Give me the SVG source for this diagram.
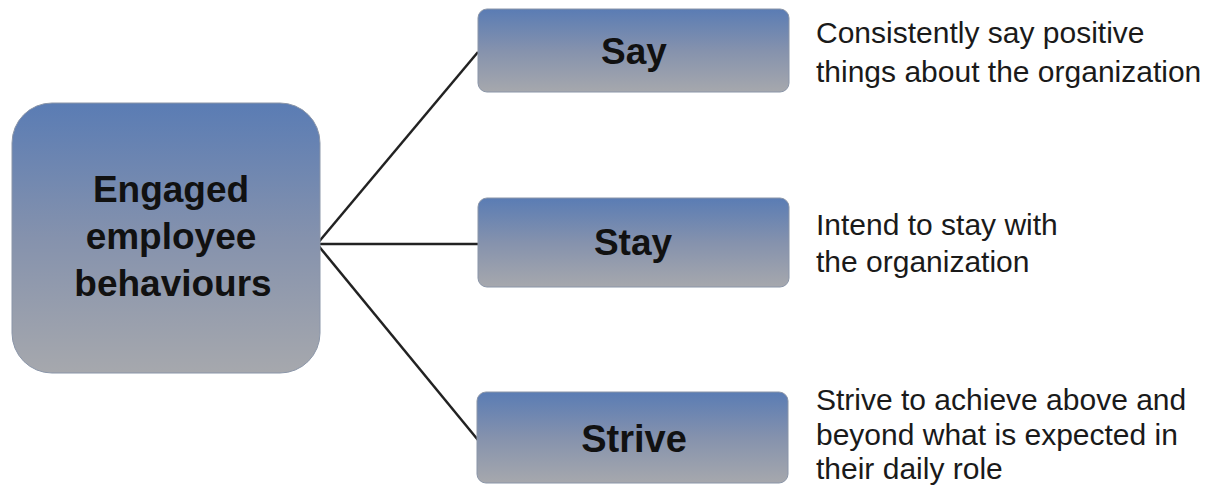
<svg xmlns="http://www.w3.org/2000/svg" width="1214" height="489" viewBox="0 0 1214 489">
<defs>
<linearGradient id="g" x1="0" y1="0" x2="0" y2="1">
<stop offset="0" stop-color="#5a7cb4"/>
<stop offset="0.5" stop-color="#8592ad"/>
<stop offset="1" stop-color="#a6a8ad"/>
</linearGradient>
<style>
.box{fill:url(#g);stroke:#8a95a8;stroke-width:1}
.lbl{font-family:"Liberation Sans",Arial,sans-serif;font-weight:bold;fill:#111;text-anchor:middle}
.desc{font-family:"Liberation Sans",Arial,sans-serif;font-size:30px;fill:#1a1a1a}
.conn{stroke:#222;stroke-width:2.5;fill:none}
</style>
</defs>
<rect width="1214" height="489" fill="#fff"/>
<g id="connectors">
<line class="conn" x1="317" y1="244" x2="478" y2="52"/>
<line class="conn" x1="317" y1="244" x2="478" y2="244"/>
<line class="conn" x1="317" y1="244" x2="478" y2="440"/>
</g>
<g id="engaged">
<rect class="box" x="12" y="103" width="308" height="270" rx="40" ry="40"/>
<text class="lbl" font-size="37" x="171" y="202">Engaged</text>
<text class="lbl" font-size="37" x="171" y="249">employee</text>
<text class="lbl" font-size="37" x="173" y="296">behaviours</text>
</g>
<g id="say">
<rect class="box" x="478" y="9" width="311" height="83" rx="9" ry="9"/>
<text class="lbl" font-size="37" x="634" y="64">Say</text>
<text class="desc" x="816" y="43">Consistently say positive</text>
<text class="desc" x="816" y="82">things about the organization</text>
</g>
<g id="stay">
<rect class="box" x="478" y="198" width="311" height="89" rx="9" ry="9"/>
<text class="lbl" font-size="37" x="633" y="255">Stay</text>
<text class="desc" x="816" y="235">Intend to stay with</text>
<text class="desc" x="816" y="272">the organization</text>
</g>
<g id="strive">
<rect class="box" x="477" y="392" width="311" height="91" rx="9" ry="9"/>
<text class="lbl" font-size="38" x="634" y="452">Strive</text>
<text class="desc" x="816" y="410">Strive to achieve above and</text>
<text class="desc" x="816" y="445">beyond what is expected in</text>
<text class="desc" x="816" y="479">their daily role</text>
</g>
</svg>
